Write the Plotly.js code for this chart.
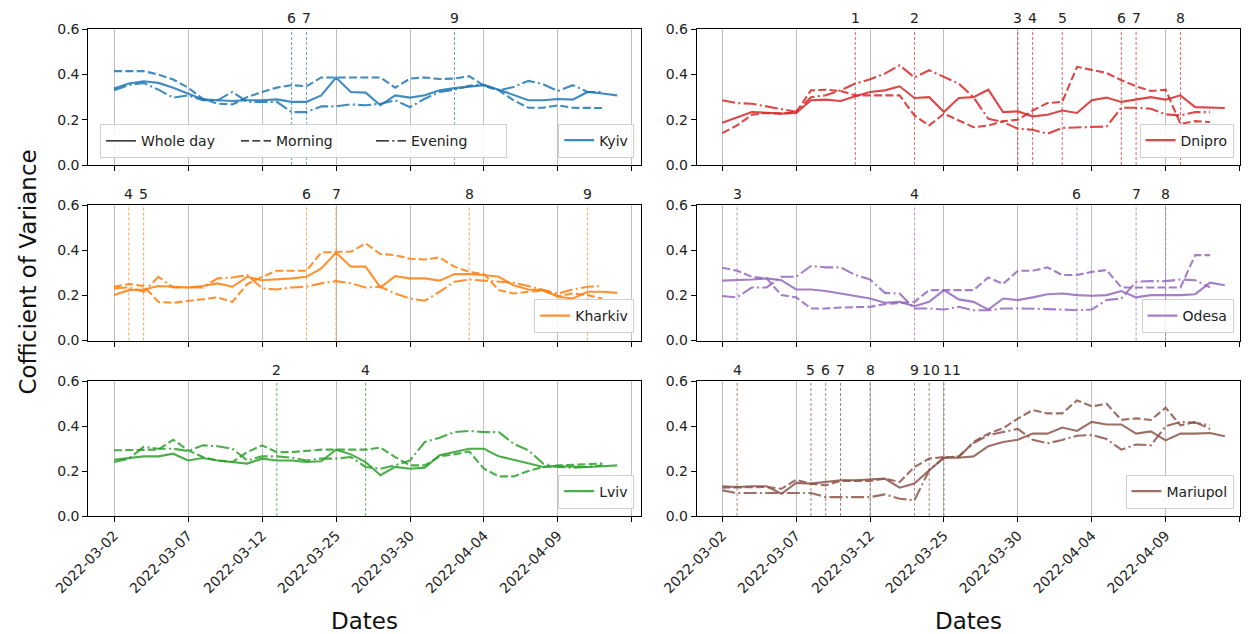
<!DOCTYPE html>
<html>
<head>
<meta charset="utf-8">
<script src="https://cdn.plot.ly/plotly-3.0.1.min.js"></script>
<style>html,body{margin:0;padding:0;background:#fff;}#chart{width:1249px;height:634px;}</style>
</head>
<body>
<div id="chart"></div>
<script>
// ---- Data ----
const tickPositions = [0, 5, 10, 15, 20, 25, 30, 35];
const tickLabels = ['2022-03-02', '2022-03-07', '2022-03-12', '2022-03-25', '2022-03-30', '2022-04-04', '2022-04-09', ''];
const periods = ['Whole day', 'Morning', 'Evening'];
const cities = ['Kyiv', 'Dnipro', 'Kharkiv', 'Odesa', 'Lviv', 'Mariupol'];
const cityColors = ['#1f77b4', '#d62728', '#ff7f0e', '#9467bd', '#2ca02c', '#8c564b'];

const kyivWhole = [0.338,0.36,0.37,0.363,0.342,0.316,0.29,0.286,0.283,0.286,0.286,0.29,0.279,0.279,0.308,0.387,0.323,0.32,0.264,0.308,0.298,0.308,0.33,0.34,0.348,0.353,0.333,0.308,0.286,0.286,0.292,0.289,0.323,0.316,0.308];
const kyivMorning = [0.415,0.415,0.415,0.40,0.378,0.342,0.293,0.271,0.268,0.30,0.323,0.342,0.353,0.348,0.387,0.387,0.387,0.387,0.387,0.342,0.382,0.387,0.38,0.382,0.393,0.35,0.33,0.286,0.253,0.253,0.264,0.253,0.253,0.252];
const kyivEvening = [0.33,0.353,0.363,0.333,0.298,0.308,0.286,0.286,0.323,0.279,0.279,0.279,0.234,0.234,0.259,0.259,0.268,0.264,0.271,0.286,0.256,0.293,0.323,0.333,0.35,0.355,0.33,0.345,0.372,0.357,0.327,0.353,0.323,0.323];

const dniproWhole = [0.187,0.209,0.234,0.231,0.227,0.23,0.286,0.289,0.283,0.304,0.323,0.33,0.348,0.296,0.30,0.234,0.296,0.30,0.333,0.234,0.237,0.215,0.222,0.241,0.23,0.286,0.298,0.279,0.289,0.30,0.289,0.308,0.256,0.253,0.252];
const dniproMorning = [0.141,0.175,0.222,0.23,0.227,0.234,0.33,0.333,0.327,0.308,0.308,0.308,0.308,0.219,0.175,0.227,0.197,0.167,0.175,0.194,0.20,0.241,0.274,0.279,0.434,0.419,0.407,0.375,0.348,0.327,0.333,0.182,0.194,0.19];
const dniproEvening = [0.286,0.274,0.271,0.259,0.244,0.235,0.30,0.308,0.33,0.36,0.379,0.404,0.441,0.387,0.419,0.39,0.36,0.30,0.204,0.19,0.16,0.156,0.138,0.164,0.167,0.167,0.17,0.253,0.253,0.249,0.224,0.219,0.234,0.234];

const kharkivWhole = [0.201,0.223,0.226,0.241,0.238,0.235,0.241,0.253,0.238,0.282,0.267,0.27,0.275,0.282,0.319,0.389,0.327,0.327,0.235,0.285,0.275,0.275,0.265,0.294,0.294,0.29,0.282,0.245,0.226,0.223,0.194,0.186,0.216,0.216,0.211];
const kharkivMorning = [0.238,0.25,0.241,0.171,0.167,0.176,0.182,0.191,0.171,0.25,0.282,0.309,0.309,0.309,0.389,0.393,0.393,0.43,0.383,0.378,0.362,0.359,0.368,0.327,0.304,0.294,0.223,0.208,0.216,0.22,0.197,0.208,0.201,0.186];
const kharkivEvening = [0.231,0.235,0.216,0.282,0.235,0.235,0.235,0.275,0.279,0.29,0.231,0.226,0.235,0.238,0.253,0.263,0.253,0.235,0.238,0.208,0.186,0.176,0.216,0.26,0.27,0.265,0.26,0.256,0.241,0.226,0.208,0.226,0.238,0.241];

const odesaWhole = [0.265,0.267,0.27,0.275,0.267,0.226,0.226,0.219,0.208,0.194,0.186,0.167,0.171,0.152,0.171,0.223,0.182,0.171,0.137,0.186,0.179,0.191,0.205,0.208,0.201,0.198,0.201,0.219,0.191,0.201,0.201,0.201,0.205,0.256,0.245];
const odesaMorning = [0.322,0.309,0.282,0.275,0.201,0.191,0.142,0.142,0.146,0.146,0.149,0.161,0.167,0.171,0.223,0.223,0.223,0.223,0.279,0.25,0.309,0.309,0.324,0.29,0.29,0.304,0.312,0.235,0.235,0.235,0.235,0.235,0.378,0.378];
const odesaEvening = [0.197,0.191,0.235,0.235,0.282,0.282,0.33,0.324,0.324,0.29,0.27,0.211,0.208,0.142,0.142,0.137,0.149,0.134,0.134,0.142,0.142,0.142,0.139,0.137,0.134,0.137,0.179,0.186,0.26,0.263,0.263,0.27,0.267,0.235];

const lvivWhole = [0.25,0.259,0.265,0.265,0.277,0.247,0.258,0.247,0.24,0.233,0.255,0.247,0.247,0.24,0.243,0.295,0.274,0.24,0.181,0.218,0.21,0.215,0.27,0.284,0.299,0.299,0.265,0.25,0.233,0.218,0.221,0.218,0.218,0.221,0.225];
const lvivMorning = [0.292,0.292,0.295,0.295,0.339,0.292,0.262,0.247,0.24,0.284,0.314,0.284,0.284,0.289,0.295,0.295,0.295,0.295,0.304,0.262,0.225,0.225,0.265,0.274,0.287,0.21,0.176,0.176,0.2,0.218,0.225,0.228,0.23,0.233];
const lvivEvening = [0.24,0.255,0.307,0.299,0.299,0.289,0.314,0.31,0.299,0.247,0.265,0.265,0.259,0.247,0.255,0.255,0.262,0.218,0.21,0.225,0.247,0.329,0.348,0.373,0.378,0.373,0.373,0.321,0.292,0.233,0.218,0.215,0.218,0.225];

const mariupolWhole = [0.132,0.129,0.132,0.132,0.099,0.147,0.144,0.151,0.159,0.159,0.161,0.166,0.126,0.144,0.203,0.259,0.259,0.265,0.31,0.329,0.339,0.366,0.366,0.393,0.378,0.418,0.407,0.407,0.366,0.376,0.336,0.366,0.366,0.369,0.354];
const mariupolMorning = [0.126,0.126,0.129,0.129,0.121,0.161,0.144,0.136,0.156,0.156,0.156,0.166,0.151,0.218,0.255,0.262,0.262,0.329,0.366,0.39,0.433,0.471,0.456,0.456,0.514,0.487,0.499,0.427,0.434,0.427,0.481,0.403,0.418,0.387];
const mariupolEvening = [0.114,0.102,0.102,0.102,0.102,0.102,0.102,0.084,0.084,0.084,0.084,0.096,0.077,0.07,0.203,0.259,0.265,0.324,0.359,0.373,0.387,0.339,0.323,0.338,0.357,0.36,0.342,0.295,0.318,0.314,0.399,0.418,0.414,0.403];

// event markers (index on x axis) and their labels
const kyivEvents = [12, 13, 23];            const kyivEventLabels = ['6', '7', '9'];
const dniproEvents = [9, 13, 20, 21, 23, 27, 28, 31]; const dniproEventLabels = ['1', '2', '3', '4', '5', '6', '7', '8'];
const kharkivEvents = [1, 2, 13, 15, 24, 32]; const kharkivEventLabels = ['4', '5', '6', '7', '8', '9'];
const odesaEvents = [1, 13, 24, 28, 30];     const odesaEventLabels = ['3', '4', '6', '7', '8'];
const lvivEvents = [11, 17];                 const lvivEventLabels = ['2', '4'];
const mariupolEvents = [1, 6, 7, 8, 10, 13, 14, 15]; const mariupolEventLabels = ['4', '5', '6', '7', '8', '9', '10', '11'];

// ---- Build ----
const seriesByCity = [
  [kyivWhole, kyivMorning, kyivEvening],
  [dniproWhole, dniproMorning, dniproEvening],
  [kharkivWhole, kharkivMorning, kharkivEvening],
  [odesaWhole, odesaMorning, odesaEvening],
  [lvivWhole, lvivMorning, lvivEvening],
  [mariupolWhole, mariupolMorning, mariupolEvening]
];
const eventsByCity = [kyivEvents, dniproEvents, kharkivEvents, odesaEvents, lvivEvents, mariupolEvents];
const eventLabelsByCity = [kyivEventLabels, dniproEventLabels, kharkivEventLabels, odesaEventLabels, lvivEventLabels, mariupolEventLabels];

const W = 1249, H = 634;
const FONT = 'DejaVu Sans, Arial, sans-serif';
const LABEL_SIZE = 14;
const dashes = ['solid', '8px,3.3px', '13px,3.3px,2px,3.3px'];
const colPx = [[88.3, 640.7], [696.7, 1240]];
const colRange = [[-1.74, 35.59], [-1.73, 35.03]];
const rowPx = [[29.3, 165], [205, 340.5], [381, 516]];

const traces = [];
const shapes = [];
const annotations = [];
const layout = {
  width: W, height: H,
  margin: {l: 0, r: 0, t: 0, b: 0},
  paper_bgcolor: '#fff', plot_bgcolor: '#fff',
  font: {family: FONT, size: 14, color: '#222'},
  showlegend: true,
  shapes: shapes,
  annotations: annotations
};

cities.forEach((city, i) => {
  const row = Math.floor(i / 2), col = i % 2;
  const n = i + 1;
  const xa = n === 1 ? 'x' : 'x' + n;
  const ya = n === 1 ? 'y' : 'y' + n;
  const xKey = n === 1 ? 'xaxis' : 'xaxis' + n;
  const yKey = n === 1 ? 'yaxis' : 'yaxis' + n;
  const legKey = 'legend' + (n + 1);
  const bottomRow = row === 2;
  const pxPerUnit = (colPx[col][1] - colPx[col][0]) / (colRange[col][1] - colRange[col][0]);

  layout[xKey] = {
    domain: [colPx[col][0] / W, colPx[col][1] / W],
    range: colRange[col],
    anchor: ya,
    tickmode: 'array', tickvals: tickPositions, ticktext: tickLabels,
    showticklabels: bottomRow, tickangle: -45,
    ticks: 'outside', ticklen: 5, tickwidth: 1, tickcolor: '#000',
    showgrid: true, gridcolor: '#b0b0b0', gridwidth: 0.8,
    showline: true, linecolor: '#000', linewidth: 1, mirror: true,
    zeroline: false, automargin: false,
    tickfont: {family: FONT, size: 14, color: '#222'}
  };
  layout[yKey] = {
    domain: [1 - rowPx[row][1] / H, 1 - rowPx[row][0] / H],
    range: [0, 0.6],
    anchor: xa,
    tickmode: 'array', tickvals: [0, 0.2, 0.4, 0.6], ticktext: ['0.0', '0.2', '0.4', '0.6'],
    ticks: 'outside', ticklen: 5, tickwidth: 1, tickcolor: '#000',
    showgrid: false, showline: true, linecolor: '#000', linewidth: 1, mirror: true,
    zeroline: false, automargin: false,
    tickfont: {family: FONT, size: 14, color: '#222'}
  };

  // city legend, lower right
  layout[legKey] = {
    x: (colPx[col][1] - 6.5) / W, xanchor: 'right',
    y: 1 - (rowPx[row][1] - 7.5) / H, yanchor: 'bottom',
    bgcolor: 'rgba(255,255,255,0.85)', bordercolor: '#d0d0d0', borderwidth: 1,
    font: {family: FONT, size: 14, color: '#222'},
    tracegroupgap: 0
  };

  seriesByCity[i].forEach((vals, k) => {
    traces.push({
      type: 'scatter', mode: 'lines',
      x: vals.map((_, j) => j), y: vals,
      xaxis: xa, yaxis: ya,
      name: city,
      legend: legKey,
      showlegend: k === 0,
      opacity: 0.85,
      line: {color: cityColors[i], width: 2.1, dash: dashes[k]},
      hoverinfo: 'skip'
    });
  });

  // event lines and labels; nudge a label right only if it would crowd its left neighbour
  let prevRight = -Infinity;
  eventsByCity[i].forEach((ev, k) => {
    shapes.push({
      type: 'line', xref: xa, yref: ya + ' domain',
      x0: ev, x1: ev, y0: 0, y1: 1,
      line: {color: cityColors[i], width: 0.8, dash: '3px,2px'},
      opacity: 0.9, layer: 'above'
    });
    const label = eventLabelsByCity[i][k];
    const halfW = 0.636 * LABEL_SIZE * label.length / 2;
    const cx = ev * pxPerUnit;
    const GAP = 3;
    let shift = 0;
    if (cx - halfW < prevRight + GAP) shift = prevRight + GAP - (cx - halfW);
    prevRight = cx + shift + halfW;
    annotations.push({
      xref: xa, yref: ya + ' domain', x: ev, y: 1,
      xanchor: 'center', yanchor: 'bottom', yshift: 1, xshift: shift,
      text: label, showarrow: false,
      font: {family: FONT, size: LABEL_SIZE, color: '#222'}
    });
  });
});

// period (line style) legend in the Kyiv panel
periods.forEach((p, k) => {
  traces.push({
    type: 'scatter', mode: 'lines', x: [null], y: [null],
    xaxis: 'x', yaxis: 'y', name: p, legend: 'legend', showlegend: true,
    line: {color: '#000', width: 1.4, dash: dashes[k]}, hoverinfo: 'skip'
  });
});
layout.legend = {
  orientation: 'h',
  x: 100 / W, xanchor: 'left',
  y: 1 - 158.3 / H, yanchor: 'bottom',
  bgcolor: 'rgba(255,255,255,0.85)', bordercolor: '#d0d0d0', borderwidth: 1,
  font: {family: FONT, size: 14, color: '#222'},
  entrywidth: 90, entrywidthmode: 'pixels',
  traceorder: 'normal'
};

// axis titles
annotations.push({
  xref: 'paper', yref: 'paper', x: 28 / W, y: 1 - 272.6 / H,
  xanchor: 'center', yanchor: 'middle', textangle: -90,
  text: 'Cofficient of Variance', showarrow: false,
  font: {family: FONT, size: 23, color: '#111'}
});
[0, 1].forEach(col => {
  annotations.push({
    xref: 'paper', yref: 'paper', x: (colPx[col][0] + colPx[col][1]) / 2 / W, y: 1 - 621 / H,
    xanchor: 'center', yanchor: 'middle',
    text: 'Dates', showarrow: false,
    font: {family: FONT, size: 23, color: '#111'}
  });
});

Plotly.newPlot('chart', traces, layout, {displayModeBar: false, staticPlot: true});
</script>
</body>
</html>
